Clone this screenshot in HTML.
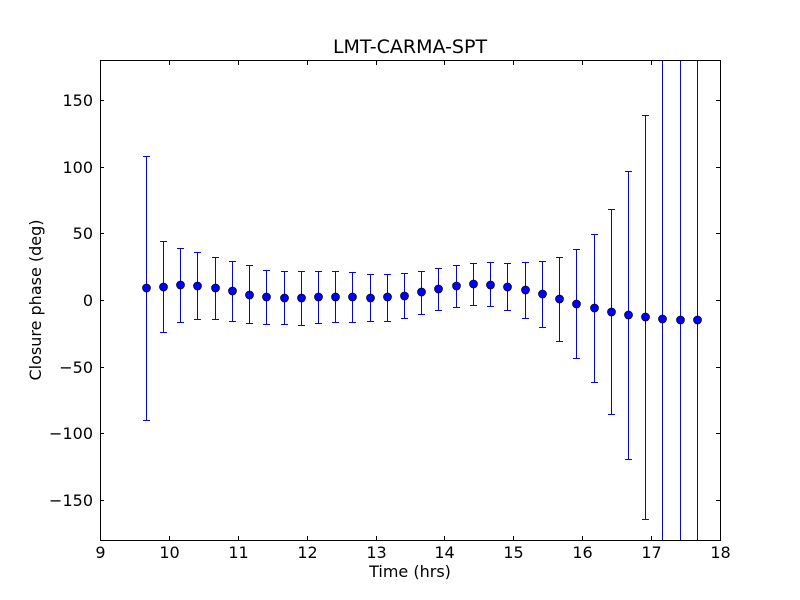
<!DOCTYPE html>
<html><head><style>body{margin:0;background:#fff}svg{display:block}text{font-family:"DejaVu Sans","Liberation Sans",sans-serif;fill:#000}</style></head><body>
<svg width="800" height="600" xmlns="http://www.w3.org/2000/svg">
<rect width="800" height="600" fill="#fff"/>
<g id="eb" fill="#0000ff"></g>
<g id="dots"></g>
<rect x="100.5" y="60.5" width="620" height="480" fill="none" stroke="#000" shape-rendering="crispEdges"/>
<g fill="#000" id="ticks"></g>
<g font-size="16" id="labels"></g>
<text x="410" y="53" font-size="19" text-anchor="middle">LMT-CARMA-SPT</text>
<text x="410" y="577" font-size="16" text-anchor="middle">Time (hrs)</text>
<text transform="translate(41,300) rotate(-90)" font-size="16" text-anchor="middle">Closure phase (deg)</text>
<script>
var ns="http://www.w3.org/2000/svg";
function el(p,t,a,txt){var e=document.createElementNS(ns,t);for(var k in a)e.setAttribute(k,a[k]);if(txt!=null)e.textContent=txt;p.appendChild(e);return e;}
var d=[[146,288,156,420],[163,287,241,332],[180,285,248,322],[197,286,252,319],[215,288,257,319],[232,291,261,321],[249,295,265,323],[266,297,270,324],[284,298,271,324],[301,298,271,325],[318,297,271,323],[335,297,271,322],[352,297,272,322],[370,298,274,321],[387,297,274,321],[404,296,273,318],[421,292,271,314],[438,289,268,310],[456,286,265,307],[473,284,263,305],[490,285,262,306],[507,287,263,310],[525,290,262,318],[542,294,261,327],[559,299,257,341],[576,304,249,358],[594,308,234,382],[611,312,209,414],[628,315,171,459],[645,317,115,519],[662,319,60,540],[680,320,60,540],[697,320,60,540]];
var g=document.getElementById("eb"),dg=document.getElementById("dots");
d.forEach(function(p){var x=p[0];el(g,"rect",{x:x,y:p[2],width:1,height:p[3]-p[2]});
if(p[2]>60)el(g,"rect",{x:x-3,y:p[2],width:7,height:1});
if(p[3]<540)el(g,"rect",{x:x-3,y:p[3],width:7,height:1});});
d.forEach(function(p){el(dg,"circle",{cx:p[0]+0.5,cy:p[1],r:4,fill:"#0000ff",stroke:"#000","stroke-width":0.7});});
var t=document.getElementById("ticks"),l=document.getElementById("labels");
for(var i=9;i<=18;i++){var x=Math.round(100+(i-9)*620/9);el(t,"rect",{x:x,y:536,width:1,height:4});el(t,"rect",{x:x,y:61,width:1,height:4});el(l,"text",{x:x+0.5,y:558,"text-anchor":"middle"},i);}
for(var v=-150;v<=150;v+=50){var y=Math.round(300-v*480/360);el(t,"rect",{x:100,y:y,width:4,height:1});el(t,"rect",{x:716,y:y,width:4,height:1});el(l,"text",{x:93,y:y+6,"text-anchor":"end"},v<0?"\u2212"+(-v):v);}
</script>
</svg></body></html>
